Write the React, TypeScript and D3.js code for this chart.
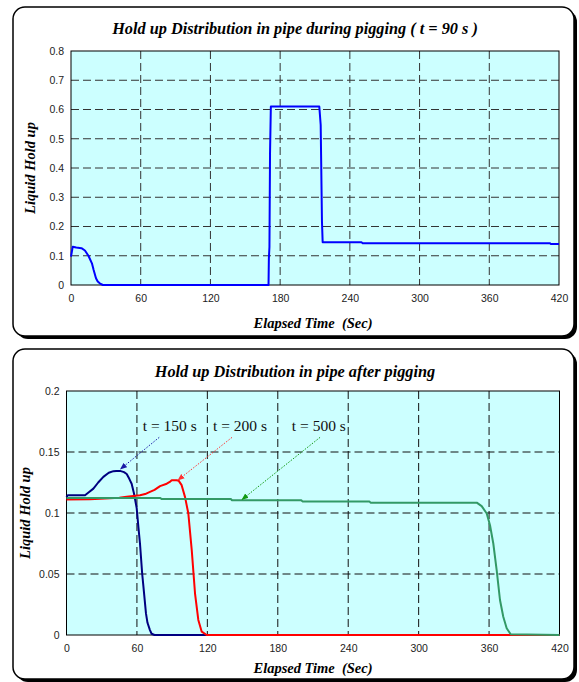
import { useRef, useEffect } from "react";
import * as d3 from "d3";

// chart 1: t = 90 s
const duringX = [0, 1.5, 4.5, 9, 12, 15, 18, 19.5, 21.5, 23, 25, 27.5, 170, 170.3, 170.8, 171.3, 172, 213.7, 214.9, 216, 216.6, 250, 251, 412, 413, 420];
const duringY = [0.097, 0.131, 0.128, 0.126, 0.118, 0.1, 0.074, 0.051, 0.023, 0.012, 0.005, 0, 0, 0.091, 0.131, 0.45, 0.61, 0.61, 0.547, 0.216, 0.146, 0.146, 0.143, 0.143, 0.14, 0.14];

// chart 2: after pigging
const t150X = [0, 1, 15.8, 19, 22.9, 27, 31.4, 36, 40, 42.4, 45.6, 49, 51.3, 53.5, 55.5, 57.5, 59.8, 61.3, 62.6, 64.5, 65.5, 67.7, 69, 71.1, 72.5, 75, 420];
const t150Y = [0.113, 0.1146, 0.1146, 0.117, 0.12, 0.125, 0.1296, 0.133, 0.1343, 0.1345, 0.1345, 0.1335, 0.132, 0.128, 0.124, 0.116, 0.104, 0.088, 0.075, 0.05, 0.04, 0.0177, 0.01, 0.004, 0.001, 0, 0];
const t200X = [0, 20, 37, 45, 51.3, 57, 62.6, 67, 71.1, 75, 79.7, 85.4, 88, 89.6, 93.9, 95.5, 98.1, 101, 103.8, 106.7, 109.5, 112.3, 115.2, 119.4, 420];
const t200Y = [0.111, 0.1112, 0.112, 0.1125, 0.1133, 0.114, 0.1146, 0.1155, 0.1173, 0.119, 0.122, 0.124, 0.1255, 0.1269, 0.1269, 0.1265, 0.1228, 0.113, 0.0996, 0.0696, 0.034, 0.0123, 0.0027, 0, 0];
const t500X = [0, 80, 81, 140, 141, 200, 201, 258, 259, 349.5, 353.7, 358, 360.8, 363.6, 366.5, 369.3, 372.1, 375, 378.4, 420];
const t500Y = [0.1122, 0.1122, 0.1115, 0.1115, 0.1105, 0.1105, 0.1095, 0.1095, 0.1085, 0.1085, 0.1056, 0.0996, 0.09, 0.075, 0.053, 0.0287, 0.015, 0.0055, 0.0006, 0];

const xTicks = [0, 60, 120, 180, 240, 300, 360, 420];
const duringYTicks = [0, 0.1, 0.2, 0.3, 0.4, 0.5, 0.6, 0.7, 0.8];
const afterYTicks = [0, 0.05, 0.1, 0.15, 0.2];

// label, text x, text y, arrow from, arrow to
const labels = ["t = 150 s", "t = 200 s", "t = 500 s"];
const labelX = [65, 124.8, 192];
const labelY = [0.1672, 0.1672, 0.1672];
const arrowFrom = [[79, 0.162], [141, 0.162], [216, 0.162]];
const arrowTo = [[46, 0.136], [95, 0.127], [149.5, 0.111]];

const zip = (xs: number[], ys: number[]) => xs.map((x, i) => [x, ys[i]] as [number, number]);

const serif = "'Liberation Serif', 'Times New Roman', serif";
const sans = "'Liberation Sans', Arial, sans-serif";

function drawPanel(g: any, opt: any) {
  const { card, plot, title, yTicks, yMax, series, titleY, xLabelY, yLabelX, gridColor } = opt;

  // card with drop shadow
  g.append("rect")
    .attr("x", card.x + 3).attr("y", card.y + 3)
    .attr("width", card.w).attr("height", card.h)
    .attr("rx", 12).attr("fill", "#000");
  g.append("rect")
    .attr("x", card.x).attr("y", card.y)
    .attr("width", card.w).attr("height", card.h)
    .attr("rx", 12).attr("fill", "#fff")
    .attr("stroke", "#000").attr("stroke-width", 1.5);

  const x = d3.scaleLinear().domain([0, 420]).range([plot.l, plot.r]);
  const y = d3.scaleLinear().domain([0, yMax]).range([plot.b, plot.t]);

  g.append("rect")
    .attr("x", plot.l).attr("y", plot.t)
    .attr("width", plot.r - plot.l).attr("height", plot.b - plot.t)
    .attr("fill", "#ccffff");

  // dashed grid
  g.selectAll("line.vgrid")
    .data(xTicks.slice(1, -1))
    .join("line")
    .attr("x1", (d: number) => x(d)).attr("x2", (d: number) => x(d))
    .attr("y1", plot.t).attr("y2", plot.b)
    .attr("stroke", gridColor).attr("stroke-dasharray", "8,4");
  g.selectAll("line.hgrid")
    .data(yTicks.slice(1, -1))
    .join("line")
    .attr("x1", plot.l).attr("x2", plot.r)
    .attr("y1", (d: number) => y(d)).attr("y2", (d: number) => y(d))
    .attr("stroke", gridColor).attr("stroke-dasharray", "8,4");

  g.append("rect")
    .attr("x", plot.l).attr("y", plot.t)
    .attr("width", plot.r - plot.l).attr("height", plot.b - plot.t)
    .attr("fill", "none").attr("stroke", "#000").attr("stroke-width", 1);

  const line = d3.line<[number, number]>().x((d) => x(d[0])).y((d) => y(d[1]));
  series.forEach((s: any) => {
    g.append("path")
      .attr("d", line(s.pts))
      .attr("fill", "none")
      .attr("stroke", s.color)
      .attr("stroke-width", 2)
      .attr("stroke-linejoin", "round");
  });

  // axes
  const yAxis = g.append("g")
    .attr("transform", `translate(${plot.l},0)`)
    .call(d3.axisLeft(y).tickValues(yTicks).tickFormat(d3.format("~g") as any).tickSize(0).tickPadding(7));
  const xAxis = g.append("g")
    .attr("transform", `translate(0,${plot.b})`)
    .call(d3.axisBottom(x).tickValues(xTicks).tickFormat(d3.format("d") as any).tickSize(0).tickPadding(10));
  [yAxis, xAxis].forEach((a) => {
    a.select(".domain").remove();
    a.selectAll("text").attr("font-family", sans).attr("font-size", 10.5).attr("fill", "#222");
  });

  g.append("text")
    .attr("x", 295).attr("y", titleY)
    .attr("text-anchor", "middle")
    .attr("font-family", serif).attr("font-weight", "bold").attr("font-style", "italic")
    .attr("font-size", 16.3)
    .text(title);
  g.append("text")
    .attr("x", 313).attr("y", xLabelY)
    .attr("text-anchor", "middle")
    .attr("font-family", serif).attr("font-weight", "bold").attr("font-style", "italic")
    .attr("font-size", 14.5)
    .style("white-space", "pre")
    .text("Elapsed Time  (Sec)");
  g.append("text")
    .attr("transform", `translate(${yLabelX},${(plot.t + plot.b) / 2}) rotate(-90)`)
    .attr("text-anchor", "middle")
    .attr("font-family", serif).attr("font-weight", "bold").attr("font-style", "italic")
    .attr("font-size", 14.5)
    .text("Liquid Hold up");

  return { x, y };
}

export default function App() {
  const svgRef = useRef<SVGSVGElement>(null);

  useEffect(() => {
    const svg = d3.select(svgRef.current);
    svg.selectAll("*").remove();

    const defs = svg.append("defs");
    const arrowColors = ["#1a1aa6", "#ff3333", "#119911"];
    arrowColors.forEach((c, i) => {
      defs.append("marker")
        .attr("id", `arr${i}`)
        .attr("viewBox", "0 0 10 10")
        .attr("refX", 9).attr("refY", 5)
        .attr("markerWidth", 7).attr("markerHeight", 7)
        .attr("orient", "auto")
        .append("path")
        .attr("d", "M0,1 L10,5 L0,9 Z")
        .attr("fill", c);
    });

    drawPanel(svg.append("g"), {
      card: { x: 13, y: 7, w: 561, h: 329 },
      plot: { l: 71, r: 559, t: 51, b: 285 },
      title: "Hold up Distribution in pipe during pigging ( t = 90 s )",
      yTicks: duringYTicks,
      yMax: 0.8,
      titleY: 34,
      xLabelY: 328,
      yLabelX: 35,
      gridColor: "#333",
      series: [{ pts: zip(duringX, duringY), color: "#0000ff" }],
    });

    const g2 = svg.append("g");
    const { x, y } = drawPanel(g2, {
      card: { x: 13, y: 349, w: 561, h: 330 },
      plot: { l: 66.5, r: 559.5, t: 391, b: 635 },
      title: "Hold up Distribution in pipe after pigging",
      yTicks: afterYTicks,
      yMax: 0.2,
      titleY: 377,
      xLabelY: 673,
      yLabelX: 30,
      gridColor: "#111",
      series: [
        { pts: zip(t150X, t150Y), color: "#000080" },
        { pts: zip(t200X, t200Y), color: "#ff0000" },
        { pts: zip(t500X, t500Y), color: "#339966" },
      ],
    });

    labels.forEach((lab, i) => {
      g2.append("line")
        .attr("x1", x(arrowFrom[i][0])).attr("y1", y(arrowFrom[i][1]))
        .attr("x2", x(arrowTo[i][0])).attr("y2", y(arrowTo[i][1]))
        .attr("stroke", arrowColors[i]).attr("stroke-width", 1)
        .attr("stroke-dasharray", "1.5,1.5")
        .attr("marker-end", `url(#arr${i})`);
      g2.append("text")
        .attr("x", x(labelX[i])).attr("y", y(labelY[i]))
        .attr("font-family", serif).attr("font-size", 15.5)
        .attr("fill", "#111")
        .text(lab);
    });
  }, []);

  return (
    <svg
      ref={svgRef}
      width={579}
      height={682}
      style={{ position: "absolute", left: 0, top: 0, background: "#fff" }}
    />
  );
}
